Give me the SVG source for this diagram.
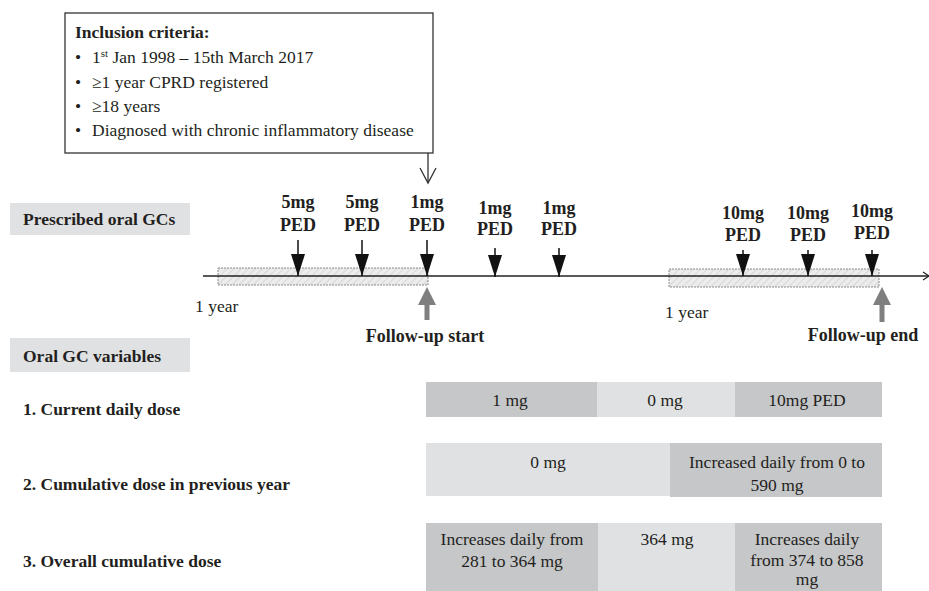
<svg xmlns="http://www.w3.org/2000/svg" width="929" height="591" viewBox="0 0 929 591">
<style>
text{font-family:"Liberation Serif","Times New Roman",serif;fill:#231f20}
.r{font-size:17.5px}
.b{font-size:17.5px;font-weight:bold}
.lb{font-size:18px;font-weight:bold;text-anchor:middle}
.c{font-size:17.5px;text-anchor:middle}
.dk{fill:#c6c7c9}
.lt{fill:#e0e1e3}
.hb{fill:url(#hatch);stroke:#8a8a8a;stroke-width:1;stroke-dasharray:2 1}
</style>
<defs>
<pattern id="hatch" width="5" height="5" patternUnits="userSpaceOnUse" patternTransform="rotate(45)">
<rect width="5" height="5" fill="#ececec"/>
<line x1="0" y1="0" x2="0" y2="5" stroke="#d2d2d2" stroke-width="1.6"/>
</pattern>
<marker id="dn" viewBox="0 0 22 14" refX="22" refY="7" markerWidth="22" markerHeight="14" markerUnits="userSpaceOnUse" orient="auto">
<path d="M0,0 L22,7 L0,14 Z" fill="#111"/>
</marker>
</defs>

<g id="inclusion-criteria">
<rect x="65" y="13" width="368" height="140" fill="#fff" stroke="#333" stroke-width="1.3"/>
<text class="b" x="75" y="38">Inclusion criteria:</text>
<text class="r" x="75" y="63">•</text><text class="r" x="92" y="63">1<tspan font-size="11" dy="-6">st</tspan><tspan dy="6"> Jan 1998 – 15th March 2017</tspan></text>
<text class="r" x="75" y="88">•</text><text class="r" x="92" y="88">≥1 year CPRD registered</text>
<text class="r" x="75" y="112">•</text><text class="r" x="92" y="112">≥18 years</text>
<text class="r" x="75" y="136">•</text><text class="r" x="92" y="136">Diagnosed with chronic inflammatory disease</text>
</g>

<g id="prescribed-label">
<rect x="10" y="203" width="180" height="32" class="lt"/>
<text class="b" x="23" y="225">Prescribed oral GCs</text>
</g>

<g id="timeline">
<rect x="218" y="268" width="210" height="17" class="hb"/>
<rect x="669" y="269" width="210" height="18" class="hb"/>
<line x1="203" y1="276" x2="929" y2="276" stroke="#222" stroke-width="1.4"/>
<path d="M923,272 L929,276 L923,280" fill="none" stroke="#222" stroke-width="1.2"/>
<text class="r" x="195" y="312">1 year</text>
<text class="r" x="665" y="318">1 year</text>
</g>

<g id="doses-before">
<text class="lb" x="298" y="208">5mg</text><text class="lb" x="298" y="231">PED</text>
<text class="lb" x="362" y="208">5mg</text><text class="lb" x="362" y="231">PED</text>
<text class="lb" x="427" y="208">1mg</text><text class="lb" x="427" y="231">PED</text>
<text class="lb" x="495" y="214">1mg</text><text class="lb" x="495" y="235">PED</text>
<text class="lb" x="559" y="214">1mg</text><text class="lb" x="559" y="235">PED</text>
</g>
<g id="doses-after">
<text class="lb" x="743" y="219">10mg</text><text class="lb" x="743" y="241">PED</text>
<text class="lb" x="808" y="219">10mg</text><text class="lb" x="808" y="241">PED</text>
<text class="lb" x="872" y="217">10mg</text><text class="lb" x="872" y="239">PED</text>
</g>

<g id="follow-up-start">
<text class="lb" x="425" y="342">Follow-up start</text>
</g>
<g id="follow-up-end">
<text class="lb" x="863" y="341">Follow-up end</text>
</g>

<g id="connectors">
<line x1="428" y1="153" x2="428" y2="183" stroke="#333" stroke-width="1.3"/>
<path d="M420,168 L428,183 L436,168" fill="none" stroke="#333" stroke-width="1.3"/>
<g stroke="#111" stroke-width="1.5">
<line x1="298" y1="240" x2="298" y2="276" marker-end="url(#dn)"/>
<line x1="362" y1="240" x2="362" y2="276" marker-end="url(#dn)"/>
<line x1="427" y1="240" x2="427" y2="276" marker-end="url(#dn)"/>
<line x1="495" y1="248" x2="495" y2="277" marker-end="url(#dn)"/>
<line x1="559" y1="248" x2="559" y2="277" marker-end="url(#dn)"/>
<line x1="743" y1="250" x2="743" y2="276" marker-end="url(#dn)"/>
<line x1="808" y1="250" x2="808" y2="276" marker-end="url(#dn)"/>
<line x1="872" y1="250" x2="872" y2="276" marker-end="url(#dn)"/>
</g>
<g fill="#7f7f7f">
<path d="M427,287 L436,305 L429.5,305 L429.5,320 L424.5,320 L424.5,305 L418,305 Z"/>
<path d="M882,287 L891,305 L884.5,305 L884.5,322 L879.5,322 L879.5,305 L873,305 Z"/>
</g>
</g>

<g id="variables-label">
<rect x="10" y="338" width="180" height="34" class="lt"/>
<text class="b" x="23" y="362">Oral GC variables</text>
</g>

<g id="row1">
<text class="b" x="23" y="415">1. Current daily dose</text>
<rect x="426" y="382" width="171" height="35" class="dk"/>
<rect x="597" y="382" width="138" height="35" class="lt"/>
<rect x="735" y="382" width="147" height="35" class="dk"/>
<text class="c" x="510" y="406">1 mg</text>
<text class="c" x="665" y="406">0 mg</text>
<text class="c" x="807" y="406">10mg PED</text>
</g>

<g id="row2">
<text class="b" x="23" y="490">2. Cumulative dose in previous year</text>
<rect x="426" y="443" width="244" height="53" class="lt"/>
<rect x="670" y="443" width="212" height="54" class="dk"/>
<text class="c" x="548" y="468">0 mg</text>
<text class="c" x="777" y="468">Increased daily from 0 to</text>
<text class="c" x="777" y="491">590 mg</text>
</g>

<g id="row3">
<text class="b" x="23" y="567">3. Overall cumulative dose</text>
<rect x="426" y="523" width="172" height="68" class="dk"/>
<rect x="598" y="523" width="137" height="68" class="lt"/>
<rect x="735" y="523" width="147" height="68" class="dk"/>
<text class="c" x="512" y="545">Increases daily from</text>
<text class="c" x="512" y="567">281 to 364 mg</text>
<text class="c" x="667" y="545">364 mg</text>
<text class="c" x="807" y="545">Increases daily</text>
<text class="c" x="807" y="566">from 374 to 858</text>
<text class="c" x="807" y="585">mg</text>
</g>
</svg>
